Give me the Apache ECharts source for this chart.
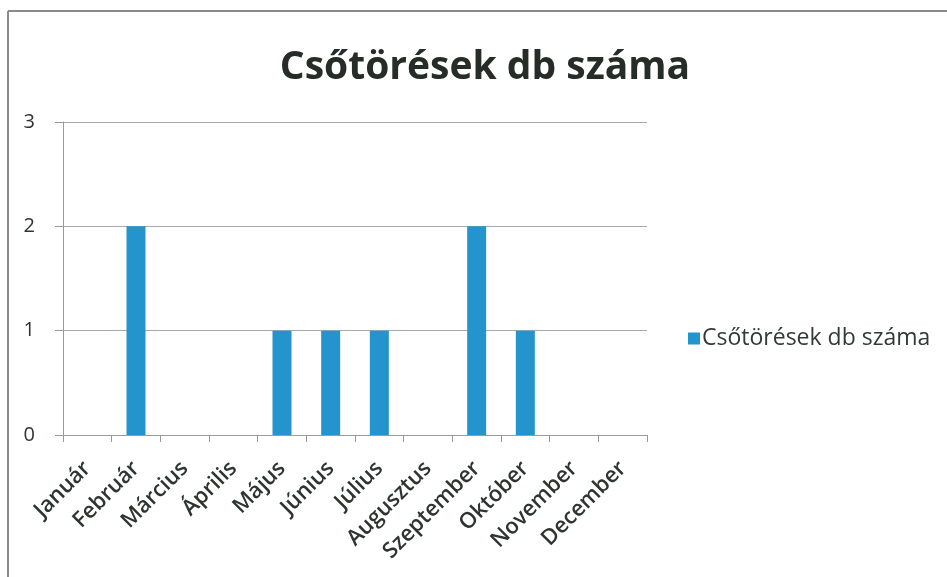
<!DOCTYPE html>
<html>
<head>
<meta charset="utf-8">
<script src="https://cdn.jsdelivr.net/npm/echarts@6/dist/echarts.min.js"></script>
<style>
html,body{margin:0;padding:0;background:#fff;}
#chart{width:947px;height:577px;}
</style>
</head>
<body>
<div id="chart"></div>
<script>
const categories = ['Január','Február','Március','Április','Május','Június','Július','Augusztus','Szeptember','Október','November','December'];
const seriesName = 'Csőtörések db száma';
const values = [0, 2, 0, 0, 1, 1, 1, 0, 2, 1, 0, 0];
const titleText = 'Csőtörések db száma';

const chart = echarts.init(document.getElementById('chart'), null, {renderer:'canvas'});
chart.setOption({
  backgroundColor:'#fff',
  animation:false,
  title:{
    text:titleText,
    left:480, top:43, textAlign:'center',
    textStyle:{fontFamily:'Open Sans', fontWeight:'bold', fontSize:39, color:'#262c28'}
  },
  legend:{
    left:683, top:322,
    itemWidth:12, itemHeight:12, itemGap:5,
    icon:'rect',
    textStyle:{fontFamily:'Open Sans', fontSize:23, color:'#333a36', padding:[0,0,0,-3]},
    data:[seriesName]
  },
  grid:{left:63, right:300, top:122, bottom:142, containLabel:false},
  xAxis:{
    type:'category',
    data:categories,
    boundaryGap:true,
    axisLine:{show:true, lineStyle:{color:'#9a9a9a', width:1}},
    axisTick:{show:true, length:7, interval:0, lineStyle:{color:'#9a9a9a'}},
    axisLabel:{interval:0, rotate:45, margin:30, fontFamily:'Open Sans', fontSize:22, fontWeight:600, color:'#2e3430'}
  },
  yAxis:{
    type:'value',
    min:0, max:3, interval:1,
    axisLine:{show:true, lineStyle:{color:'#9a9a9a', width:1}},
    axisTick:{show:true, length:8, lineStyle:{color:'#9a9a9a'}},
    axisLabel:{margin:28, fontFamily:'Open Sans', fontSize:20, color:'#2e3430'},
    splitLine:{show:true, lineStyle:{color:'#a8a8a8', width:1}}
  },
  series:[{
    name:seriesName,
    type:'bar',
    data:values,
    barWidth:19,
    itemStyle:{color:'#2494cc'}
  }],
  graphic:[
    {type:'line', shape:{x1:8, y1:11, x2:8, y2:577}, style:{stroke:'#8a8a8a', lineWidth:2}},
    {type:'line', shape:{x1:8, y1:11, x2:947, y2:11}, style:{stroke:'#8a8a8a', lineWidth:2}}
  ]
});
</script>
</body>
</html>
